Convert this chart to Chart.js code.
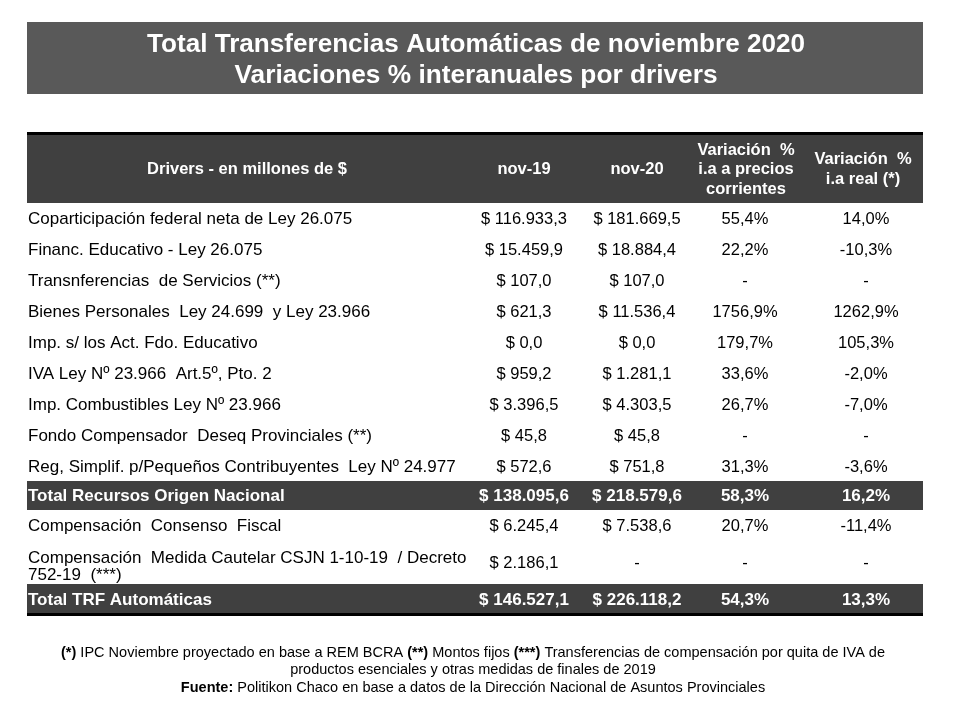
<!DOCTYPE html>
<html><head><meta charset="utf-8">
<script src="https://cdn.jsdelivr.net/npm/chart.js@4"></script>
<style>html,body{margin:0;padding:0;background:#fff}canvas{display:block}</style>
</head><body>
<canvas id="c" width="960" height="720"></canvas>
<script>
// ---------- DATA ----------
const titleLines = ['Total Transferencias Automáticas de noviembre 2020', 'Variaciones % interanuales por drivers'];
const columnHeaders = [
  ['Drivers - en millones de $'],
  ['nov-19'],
  ['nov-20'],
  ['Variación  %', 'i.a a precios', 'corrientes'],
  ['Variación  %', 'i.a real (*)']
];
const drivers = [
  'Coparticipación federal neta de Ley 26.075',
  'Financ. Educativo - Ley 26.075',
  'Transnferencias  de Servicios (**)',
  'Bienes Personales  Ley 24.699  y Ley 23.966',
  'Imp. s/ los Act. Fdo. Educativo',
  'IVA Ley Nº 23.966  Art.5º, Pto. 2',
  'Imp. Combustibles Ley Nº 23.966',
  'Fondo Compensador  Deseq Provinciales (**)',
  'Reg, Simplif. p/Pequeños Contribuyentes  Ley Nº 24.977',
  'Total Recursos Origen Nacional',
  'Compensación  Consenso  Fiscal',
  'Compensación  Medida Cautelar CSJN 1-10-19  / Decreto\n752-19  (***)',
  'Total TRF Automáticas'
];
const nov19 = [116933.3, 15459.9, 107.0, 621.3, 0.0, 959.2, 3396.5, 45.8, 572.6, 138095.6, 6245.4, 2186.1, 146527.1];
const nov20 = [181669.5, 18884.4, 107.0, 11536.4, 0.0, 1281.1, 4303.5, 45.8, 751.8, 218579.6, 7538.6, null, 226118.2];
const varCorrientes = [55.4, 22.2, null, 1756.9, 179.7, 33.6, 26.7, null, 31.3, 58.3, 20.7, null, 54.3];
const varReal = [14.0, -10.3, null, 1262.9, 105.3, -2.0, -7.0, null, -3.6, 16.2, -11.4, null, 13.3];
const totalRows = ['Total Recursos Origen Nacional', 'Total TRF Automáticas'];
const footnotes = [
  [['(*)', true], [' IPC Noviembre proyectado en base a REM BCRA ', false], ['(**)', true], [' Montos fijos ', false], ['(***)', true], [' Transferencias de compensación por quita de IVA de', false]],
  [['productos esenciales y otras medidas de finales de 2019', false]],
  [['Fuente:', true], [' Politikon Chaco en base a datos de la Dirección Nacional de Asuntos Provinciales', false]]
];

// ---------- LAYOUT (styles / sizes) ----------
const FONT = '"Liberation Sans", Arial, sans-serif';
const rowHeights = [31, 31, 31, 31, 31, 31, 31, 31, 30, 29, 31, 43, 30];
const headerHeight = 70;
const colCenters = [220, 497, 610, 718, 839];
const headerCenters = [220, 497, 610, 719, 836];
const labelX = 1;
const darkFill = '#404040';
const titleFill = '#595959';

function money(v) {
  if (v === null) return '-';
  const parts = v.toFixed(1).split('.');
  return '$ ' + parts[0].replace(/\B(?=(\d{3})+(?!\d))/g, '.') + ',' + parts[1];
}
function pct(v) {
  if (v === null) return '-';
  return v.toFixed(1).replace('.', ',') + '%';
}

function fitText(ctx, text, cx, y, font, targetW) {
  ctx.save();
  ctx.font = font;
  const w = ctx.measureText(text).width;
  const s = targetW / w;
  ctx.translate(cx, y);
  ctx.scale(s, 1);
  ctx.textAlign = 'center';
  ctx.fillText(text, 0, 0);
  ctx.restore();
}

const tablePlugin = {
  id: 'tablePlugin',
  afterDraw(chart) {
    const ctx = chart.ctx;
    const xs = chart.scales.x, ys = chart.scales.y;
    const left = xs.getPixelForValue(0), right = xs.getPixelForValue(xs.max);
    const W = right - left;
    ctx.save();
    // Title box
    ctx.fillStyle = titleFill;
    ctx.fillRect(left, 22, W, 72);
    ctx.fillStyle = '#fff';
    ctx.textBaseline = 'alphabetic';
    fitText(ctx, titleLines[0], (left + right) / 2 + 1, 52, 'bold 26px ' + FONT, 658);
    fitText(ctx, titleLines[1], (left + right) / 2 + 1, 83, 'bold 26px ' + FONT, 483);

    // Header
    const hTop = ys.getPixelForValue(-headerHeight), hBot = ys.getPixelForValue(0);
    ctx.fillStyle = darkFill;
    ctx.fillRect(left, hTop, W, hBot - hTop);
    ctx.fillStyle = '#000';
    ctx.fillRect(left, hTop - 1, W, 3);
    ctx.fillStyle = '#fff';
    ctx.font = 'bold 16.5px ' + FONT;
    ctx.textAlign = 'center';
    ctx.textBaseline = 'middle';
    const hMid = (hTop + hBot) / 2 + 1.5;
    columnHeaders.forEach((lines, i) => {
      const lh = 19.5;
      const start = hMid - (lines.length - 1) * lh / 2;
      lines.forEach((t, j) => ctx.fillText(t, xs.getPixelForValue(headerCenters[i]), start + j * lh));
    });

    // Body rows
    let cum = 0;
    drivers.forEach((label, r) => {
      const top = ys.getPixelForValue(cum);
      const bot = ys.getPixelForValue(cum + rowHeights[r]);
      const cy = ys.getPixelForValue(cum + rowHeights[r] / 2) + 1;
      const isTotal = totalRows.includes(label);
      if (isTotal) {
        ctx.fillStyle = darkFill;
        ctx.fillRect(left, top, W, bot - top);
      }
      ctx.fillStyle = isTotal ? '#fff' : '#000';
      ctx.font = (isTotal ? 'bold ' : '') + '17px ' + FONT;
      ctx.textBaseline = 'middle';
      ctx.textAlign = 'left';
      const lines = label.split('\n');
      const lh = 17;
      const st = cy + (lines.length > 1 ? 3 : 0) - (lines.length - 1) * lh / 2;
      lines.forEach((t, j) => ctx.fillText(t, xs.getPixelForValue(labelX), st + j * lh));
      ctx.textAlign = 'center';
      ctx.font = (isTotal ? 'bold 17px ' : '16.5px ') + FONT;
      const cells = [money(nov19[r]), money(nov20[r]), pct(varCorrientes[r]), pct(varReal[r])];
      cells.forEach((t, c) => ctx.fillText(t, xs.getPixelForValue(colCenters[c + 1]), cy));
      cum += rowHeights[r];
    });
    // bottom line
    const bLine = ys.getPixelForValue(cum);
    ctx.fillStyle = '#000';
    ctx.fillRect(left, bLine - 1, W, 3);

    // Footnotes
    ctx.fillStyle = '#000';
    ctx.textBaseline = 'middle';
    ctx.textAlign = 'left';
    const fsize = 15;
    const measureRuns = runs => runs.reduce((a, [t, b]) => { ctx.font = (b ? 'bold ' : '') + fsize + 'px ' + FONT; return a + ctx.measureText(t).width; }, 0);
    const sx = 824 / measureRuns(footnotes[0]);
    const ysF = [653, 670, 688];
    const cx = (left + right) / 2 - 2;
    footnotes.forEach((runs, i) => {
      const w = measureRuns(runs) * sx;
      ctx.save();
      ctx.translate(cx - w / 2, ysF[i]);
      ctx.scale(sx, 1);
      let x = 0;
      runs.forEach(([t, b]) => {
        ctx.font = (b ? 'bold ' : '') + fsize + 'px ' + FONT;
        ctx.fillText(t, x, 0);
        x += ctx.measureText(t).width;
      });
      ctx.restore();
    });
    ctx.restore();
  }
};

const totalBody = rowHeights.reduce((a, b) => a + b, 0);
new Chart(document.getElementById('c'), {
  type: 'scatter',
  data: { datasets: [] },
  options: {
    responsive: false,
    animation: false,
    events: [],
    layout: { padding: { left: 27, right: 37, top: 133, bottom: 720 - 133 - headerHeight - totalBody } },
    plugins: { legend: { display: false }, tooltip: { enabled: false }, title: { display: false } },
    scales: {
      x: { type: 'linear', min: 0, max: 896, display: false },
      y: { type: 'linear', min: -headerHeight, max: totalBody, reverse: true, display: false }
    }
  },
  plugins: [tablePlugin]
});
</script>
</body></html>
